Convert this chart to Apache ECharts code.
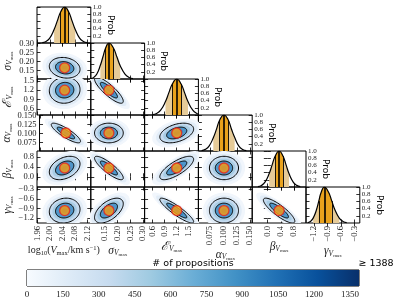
<!DOCTYPE html>
<html><head><meta charset="utf-8">
<script src="https://cdn.jsdelivr.net/npm/echarts@6/dist/echarts.min.js"></script>
<style>html,body{margin:0;padding:0;background:#fff}#c{width:395px;height:299px}</style>
</head><body><div id="c"></div>
<script>
// ---------------- data ----------------
const axisNames = [
  '{n|log}{s|10}{n|(}{i|V}{s|max}{n|/km s}{p|\u22121}{n|)}',
  '{m|\u03c3}{v|V}{x|max}',
  '{e|\u2130}{v|V}{x|max}',
  '{m|\u03b1}{v|V}{x|max}',
  '{m|\u03b2}{v|V}{x|max}',
  '{m|\u03b3}{v|V}{x|max}'
];
const xMin = [1.958, 0.093, 0.40, 0.053, -0.45, -1.38];
const xMax = [2.131, 0.307, 1.74, 0.154, 1.15, -0.18];
const yMin = [0, 0.103, 0.40, 0.051, -0.41, -1.36];
const yMax = [1, 0.302, 1.56, 0.151, 1.03, -0.23];
const ticks = [
  [1.96, 2.00, 2.04, 2.08, 2.12],
  [0.15, 0.20, 0.25, 0.30],
  [0.6, 0.9, 1.2, 1.5],
  [0.075, 0.100, 0.125, 0.150],
  [0.0, 0.4, 0.8],
  [-1.2, -0.9, -0.6, -0.3]
];
const tickDecimals = [2, 2, 1, 3, 1, 1];
const probTicks = [0.2, 0.4, 0.6, 0.8, 1.0];
const medians = [2.047, 0.165, 1.20, 0.101, 0.35, -0.97];
const spread = [0.019, 0.022, 0.162, 0.0105, 0.18, 0.15];
const corr = [
  [],
  [-0.15],
  [0.05, -0.85],
  [-0.85, 0.0, 0.4],
  [0.35, -0.85, 0.75, 0.0],
  [0.1, 0.55, -0.9, 0.0, -0.85]
];
const contourLevels = [1.55, 2.6];
const curveX = [
  [1.975,1.987,1.999,2.013,2.023,2.034,2.047,2.060,2.071,2.081,2.095,2.107,2.119],
  [0.093,0.105,0.117,0.131,0.141,0.152,0.165,0.183,0.197,0.210,0.229,0.245,0.261],
  [0.60,0.70,0.80,0.92,1.00,1.09,1.20,1.31,1.40,1.48,1.60,1.70,1.80],
  [0.059,0.066,0.073,0.081,0.087,0.093,0.101,0.109,0.115,0.121,0.129,0.136,0.143],
  [-0.28,-0.175,-0.07,0.056,0.14,0.235,0.35,0.465,0.56,0.644,0.77,0.875,0.98],
  [-1.345,-1.283,-1.22,-1.145,-1.095,-1.039,-0.97,-0.879,-0.804,-0.738,-0.638,-0.555,-0.472]
];
const curveP = [
  [0.011,0.044,0.135,0.375,0.607,0.86,1.0,0.86,0.607,0.375,0.135,0.044,0.011],
  [0.012,0.045,0.137,0.38,0.61,0.86,1.0,0.86,0.61,0.37,0.135,0.044,0.012],
  [0.011,0.044,0.135,0.375,0.607,0.86,1.0,0.86,0.607,0.375,0.135,0.044,0.011],
  [0.011,0.045,0.136,0.37,0.607,0.86,1.0,0.86,0.61,0.38,0.135,0.044,0.011],
  [0.012,0.044,0.135,0.375,0.607,0.86,1.0,0.86,0.607,0.375,0.135,0.045,0.011],
  [0.011,0.044,0.135,0.375,0.607,0.86,1.0,0.86,0.607,0.375,0.135,0.044,0.011]
];
const band68 = [[2.034,2.060],[0.152,0.183],[1.09,1.31],[0.093,0.109],[0.235,0.465],[-1.095,-0.804]];
const band95 = [[2.013,2.081],[0.131,0.210],[0.92,1.48],[0.081,0.121],[0.056,0.644],[-1.22,-0.638]];
const cbarTicks = [0,150,300,450,600,750,900,1050,1200,1350];
const cbarMax = 1388;

// ---------------- layout / style ----------------
const L = 37, T = 7, W = 53.8, H = 36;
const serif = 'Liberation Serif';
const labelFont = {fontFamily: serif, fontSize: 8.5, color: '#222'};
const tickStyle = {show: true, inside: true, length: 3.5, lineStyle: {color: '#000', width: 0.8}};
const blues = [[0,'#f7fbff'],[0.125,'#deebf7'],[0.25,'#c6dbef'],[0.375,'#9ecae1'],[0.5,'#6baed6'],[0.625,'#4292c6'],[0.75,'#2171b5'],[0.875,'#08519c'],[1,'#08306b']];
const nameRich = {
  n: {fontFamily: serif, fontSize: 10, color: '#222'},
  i: {fontFamily: serif, fontStyle: 'italic', fontSize: 10, color: '#222'},
  s: {fontFamily: serif, fontSize: 6.5, color: '#222', verticalAlign: 'bottom', lineHeight: 12},
  p: {fontFamily: serif, fontSize: 6.5, color: '#222', verticalAlign: 'top', lineHeight: 12},
  m: {fontFamily: serif, fontStyle: 'italic', fontSize: 11.5, color: '#222'},
  e: {fontFamily: 'DejaVu Serif', fontStyle: 'italic', fontSize: 12.5, color: '#222'},
  v: {fontFamily: serif, fontStyle: 'italic', fontSize: 7.5, color: '#222', verticalAlign: 'bottom', lineHeight: 13},
  x: {fontFamily: serif, fontSize: 5, color: '#222', verticalAlign: 'bottom', lineHeight: 13}
};
function fmt(v, d) { const s = Math.abs(v).toFixed(d); return v < -1e-9 ? '\u2212' + s : s; }

const grids = [], xAxes = [], yAxes = [], series = [];

function ellipse(api, mx, my, sx, sy, rho, r) {
  const pts = [];
  const q = Math.sqrt(1 - rho * rho);
  for (let k = 0; k < 72; k++) {
    const t = 2 * Math.PI * k / 72;
    const c = Math.cos(t), s = Math.sin(t);
    pts.push(api.coord([mx + r * sx * c, my + r * sy * (rho * c + q * s)]));
  }
  return pts;
}

for (let i = 0; i < 6; i++) {
  for (let j = 0; j <= i; j++) {
    const g = grids.length;
    grids.push({left: L + j * W, top: T + i * H, width: W, height: H, show: true,
      borderColor: '#000', borderWidth: 1, backgroundColor: 'rgba(0,0,0,0)'});
    const lastRow = i === 5;
    const xb = xAxes.length;
    const xAx = {type: 'value', gridIndex: g, min: xMin[j], max: xMax[j], position: 'bottom',
      axisLine: {show: false}, splitLine: {show: false},
      axisTick: Object.assign({}, tickStyle, {customValues: ticks[j]}),
      axisLabel: Object.assign({show: lastRow, customValues: ticks[j], rotate: 90, margin: 3, interval: 0,
        showMinLabel: true, showMaxLabel: true, hideOverlap: false,
        formatter: v => fmt(v, tickDecimals[j])}, labelFont)};
    if (lastRow) {
      xAx.name = axisNames[j]; xAx.nameLocation = 'middle'; xAx.nameGap = 14;
      xAx.nameTextStyle = {rich: nameRich};
    }
    xAxes.push(xAx);
    xAxes.push({type: 'value', gridIndex: g, min: xMin[j], max: xMax[j], position: 'top',
      axisLine: {show: false}, splitLine: {show: false},
      axisTick: Object.assign({}, tickStyle, {customValues: ticks[j]}), axisLabel: {show: false}});
    const yl = yAxes.length;
    if (i === j) {
      yAxes.push({type: 'value', gridIndex: g, min: 0, max: 1, position: 'left',
        axisLine: {show: false}, splitLine: {show: false},
        axisTick: Object.assign({}, tickStyle, {customValues: probTicks}), axisLabel: {show: false}});
      yAxes.push({type: 'value', gridIndex: g, min: 0, max: 1, position: 'right',
        axisLine: {show: false}, splitLine: {show: false},
        axisTick: Object.assign({}, tickStyle, {customValues: probTicks}),
        axisLabel: Object.assign({show: true, customValues: probTicks, margin: 2, interval: 0,
          showMinLabel: true, showMaxLabel: true, hideOverlap: false,
          formatter: v => v.toFixed(1)}, labelFont, {fontSize: 7, lineHeight: 7}),
        name: 'Prob', nameLocation: 'middle', nameGap: 11, nameRotate: -90,
        nameTextStyle: {fontFamily: 'DejaVu Sans', fontSize: 9, color: '#111'}});
      const xs = curveX[i], ps = curveP[i];
      const pts = xs.map((x, k) => [x, ps[k]]);
      const inBand = b => pts.filter(p => p[0] >= b[0] - 1e-9 && p[0] <= b[1] + 1e-9);
      const pAt = x => { const k = xs.findIndex(v => Math.abs(v - x) < 1e-9); return ps[k]; };
      series.push({type: 'line', xAxisIndex: xb, yAxisIndex: yl, data: inBand(band95[i]), smooth: true,
        symbol: 'none', lineStyle: {width: 0}, areaStyle: {color: '#e6cb98', opacity: 1}, silent: true, z: 2});
      series.push({type: 'line', xAxisIndex: xb, yAxisIndex: yl, data: inBand(band68[i]), smooth: true,
        symbol: 'none', lineStyle: {width: 0}, areaStyle: {color: '#e9a21c', opacity: 1}, silent: true, z: 3});
      const b = band68[i];
      series.push({type: 'line', xAxisIndex: xb, yAxisIndex: yl, data: pts, smooth: true,
        symbol: 'none', lineStyle: {color: '#000', width: 1.2}, silent: true, z: 5,
        markLine: {silent: true, symbol: ['none', 'none'], label: {show: false},
          lineStyle: {color: '#000', width: 0.9, type: 'solid'},
          data: [
            [{coord: [b[0], 0]}, {coord: [b[0], pAt(b[0])]}],
            [{coord: [b[1], 0]}, {coord: [b[1], pAt(b[1])]}],
            [{coord: [medians[i], 0], lineStyle: {width: 1.6, color: '#000'}}, {coord: [medians[i], 1]}]
          ]}});
    } else {
      yAxes.push({type: 'value', gridIndex: g, min: yMin[i], max: yMax[i], position: 'left',
        axisLine: {show: false}, splitLine: {show: false},
        axisTick: Object.assign({}, tickStyle, {customValues: ticks[i]}),
        axisLabel: Object.assign({show: j === 0, customValues: ticks[i], margin: 3, interval: 0,
          showMinLabel: true, showMaxLabel: true, hideOverlap: false,
          formatter: v => fmt(v, tickDecimals[i])}, labelFont),
        name: j === 0 ? axisNames[i] : '', nameLocation: 'middle', nameGap: 23, nameRotate: 90,
        nameTextStyle: {rich: nameRich}});
      yAxes.push({type: 'value', gridIndex: g, min: yMin[i], max: yMax[i], position: 'right',
        axisLine: {show: false}, splitLine: {show: false},
        axisTick: Object.assign({}, tickStyle, {customValues: ticks[i]}), axisLabel: {show: false}});
      const sx = spread[j], sy = spread[i], rho = corr[i][j];
      const r1 = contourLevels[0], r2 = contourLevels[1];
      series.push({type: 'custom', xAxisIndex: xb, yAxisIndex: yl, clip: true, silent: true, z: 2,
        data: [[medians[j], medians[i]]],
        renderItem: (params, api) => {
          const mx = api.value(0), my = api.value(1);
          const layer = (r, fill, stroke) => ({type: 'polygon', shape: {points: ellipse(api, mx, my, sx, sy, rho, r)},
            style: {fill: fill, stroke: stroke || null, lineWidth: stroke ? 1 : 0}});
          return {type: 'group', children: [
            layer(r2 * 1.45, '#f1f6fc'),
            layer(r2 * 1.22, '#e1ecf7'),
            layer(r2, '#c6dbef', '#000'),
            layer((r1 + r2) / 2, '#a8cde5'),
            layer(r1, '#4f96c9', '#000'),
            layer(r1 * 0.6, '#3381bd'),
            layer(r1 * 0.3, '#2171b5')
          ]};
        }});
      series.push({type: 'scatter', xAxisIndex: xb, yAxisIndex: yl, data: [[medians[j], medians[i]]],
        symbolSize: 10, itemStyle: {color: '#ffa010', borderColor: '#e8261c', borderWidth: 1.3}, silent: true, z: 6});
    }
  }
}

// colour bar
const cg = grids.length;
grids.push({left: 27, top: 270, width: 332, height: 16, show: true, borderColor: '#000', borderWidth: 1,
  backgroundColor: 'rgba(0,0,0,0)'});
const cxb = xAxes.length;
xAxes.push({type: 'value', gridIndex: cg, min: 0, max: cbarMax, position: 'bottom',
  axisLine: {show: false}, splitLine: {show: false},
  axisTick: {show: true, inside: true, length: 4, customValues: cbarTicks, lineStyle: {color: '#333', width: 0.9}},
  axisLabel: Object.assign({customValues: cbarTicks, margin: 4, interval: 0, formatter: v => String(v)}, labelFont, {fontSize: 9})});
xAxes.push({type: 'value', gridIndex: cg, min: 0, max: cbarMax, position: 'top',
  axisLine: {show: false}, splitLine: {show: false},
  axisTick: {show: true, inside: true, length: 4, customValues: cbarTicks, lineStyle: {color: '#333', width: 0.9}},
  axisLabel: {show: false}});
const cyl = yAxes.length;
yAxes.push({type: 'value', gridIndex: cg, min: 0, max: 1, show: false});
series.push({type: 'custom', xAxisIndex: cxb, yAxisIndex: cyl, silent: true, data: [[0, cbarMax]],
  renderItem: (params, api) => {
    const p0 = api.coord([api.value(0), 0]), p1 = api.coord([api.value(1), 1]);
    return {type: 'rect', shape: {x: p0[0], y: p1[1], width: p1[0] - p0[0], height: p0[1] - p1[1]},
      style: {fill: new echarts.graphic.LinearGradient(0, 0, 1, 0,
        blues.map(s => ({offset: s[0], color: s[1]})))}};
  }});

const chart = echarts.init(document.getElementById('c'), null, {renderer: 'canvas'});
chart.setOption({
  animation: false,
  backgroundColor: '#fff',
  grid: grids, xAxis: xAxes, yAxis: yAxes, series: series,
  graphic: [
    {type: 'text', x: 193, y: 264, style: {text: '# of propositions', font: '9.5px "DejaVu Sans"',
      align: 'center', verticalAlign: 'middle', fill: '#000'}},
    {type: 'text', x: 376, y: 264, style: {text: '\u2265 1388', font: '9.5px "DejaVu Sans"',
      align: 'center', verticalAlign: 'middle', fill: '#000'}}
  ]
});
</script></body></html>
